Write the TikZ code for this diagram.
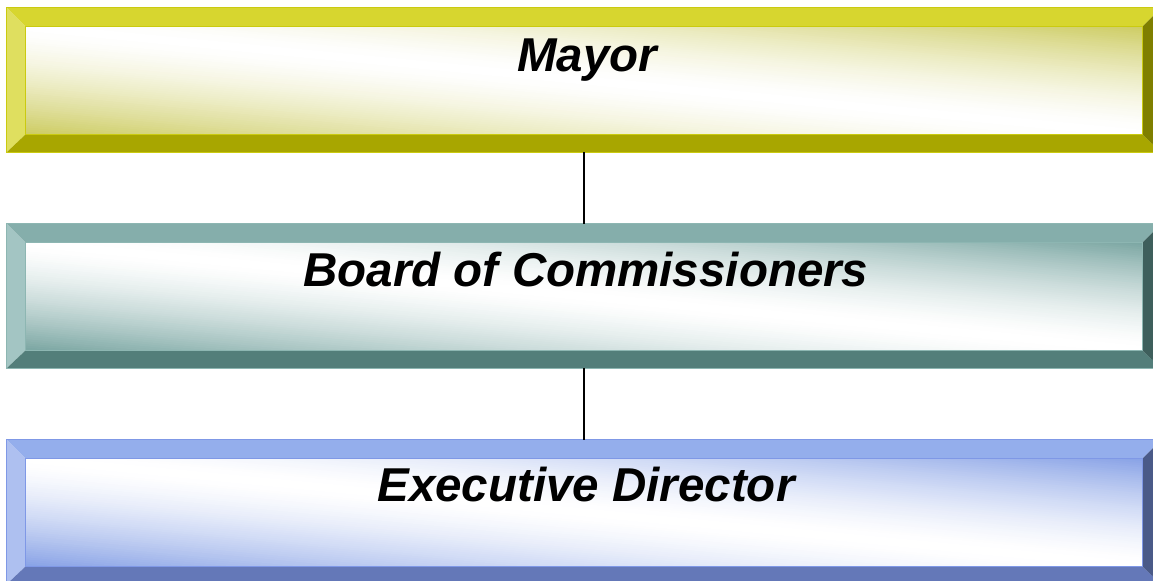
\documentclass[tikz,border=0pt]{standalone}
\usepackage{fontspec}
\setmainfont{Liberation Sans}
\usetikzlibrary{calc}
% Mayor (yellow)
\definecolor{mTop}{HTML}{D7D62F}
\definecolor{mLeft}{HTML}{DFDF5F}
\definecolor{mBot}{HTML}{A8A600}
\definecolor{mRight}{HTML}{7F7F00}
\definecolor{mFace}{HTML}{CDCC62}
\definecolor{mLine}{HTML}{CACA10}
% Board (teal)
\definecolor{bTop}{HTML}{85AEAB}
\definecolor{bLeft}{HTML}{A3C5C3}
\definecolor{bBot}{HTML}{537E7A}
\definecolor{bRight}{HTML}{3E5F5C}
\definecolor{bFace}{HTML}{7AA6A2}
\definecolor{bLine}{HTML}{8DB6B2}
% Executive (blue)
\definecolor{eTop}{HTML}{94AEEC}
\definecolor{eLeft}{HTML}{AEC0F0}
\definecolor{eBot}{HTML}{6478B8}
\definecolor{eRight}{HTML}{4A5A88}
\definecolor{eFace}{HTML}{88A2E6}
\definecolor{eLine}{HTML}{7F98E6}
\tikzset{
  orgbox/.style={draw=none, rectangle, inner sep=0pt, minimum width=1154bp, minimum height=144bp},
  boxlabel/.style={inner sep=0pt, anchor=base, font=\fontsize{47.5bp}{57bp}\selectfont\bfseries\itshape},
  link/.style={draw=black, line width=1.4bp}
}
% #1 node name, #2 prefix of colours
\newcommand\drawbevel[2]{%
  \fill[#2Top] (#1.north west) -- (#1.north east) -- ($(#1.north east)+(-19,19)$) -- ($(#1.north west)+(19,19)$) -- cycle;
  \fill[#2Left] (#1.north west) -- ($(#1.north west)+(19,19)$) -- ($(#1.south west)+(19,-18)$) -- (#1.south west) -- cycle;
  \fill[#2Bot] (#1.south west) -- ($(#1.south west)+(19,-18)$) -- ($(#1.south east)+(-19,-18)$) -- (#1.south east) -- cycle;
  \fill[#2Right] (#1.north east) -- (#1.south east) -- ($(#1.south east)+(-19,-18)$) -- ($(#1.north east)+(-19,19)$) -- cycle;
  \begin{scope}
    \clip ($(#1.north west)+(19,19)$) rectangle ($(#1.south east)+(-19,-18)$);
    \coordinate (#1fa) at ($(#1.north west)+(19,19)$);
    \foreach \i in {0,...,99} {
      \pgfmathsetmacro\sa{-1+\i*0.02}
      \pgfmathsetmacro\sm{abs(\sa+0.01)}
      \pgfmathtruncatemacro\ff{100*\sm^1.5}
      \fill[#2Face!\ff!white]
        ($(#1fa)+({\sa*1116},0)$) -- ($(#1fa)+({(\sa+0.03)*1116},0)$) --
        ($(#1fa)+({(\sa+1.03)*1116},107)$) -- ($(#1fa)+({(\sa+1)*1116},107)$) -- cycle;
    }
  \end{scope}
  \draw[#2Line, line width=1bp] ($(#1.north west)+(19,19)$) rectangle ($(#1.south east)+(-19,-18)$);
  \draw[#2Line, line width=0.8bp] (#1.north west) rectangle (#1.south east);
}
\begin{document}
\begin{tikzpicture}[x=1bp, y=-1bp]
  \useasboundingbox (0,0) rectangle (1153,581);
  \fill[white] (0,0) rectangle (1153,581);
  \node[orgbox] (mayor) at (584,80) {};
  \node[orgbox] (board) at (584,296) {};
  \node[orgbox] (exec) at (584,512) {};
  \drawbevel{mayor}{m}
  \drawbevel{board}{b}
  \drawbevel{exec}{e}
  \draw[link] (mayor.south) -- (board.north);
  \draw[link] (board.south) -- (exec.north);
  \node[boxlabel] (tmayor) at ($(mayor.north)+(3,64)$) {Mayor};
  \node[boxlabel] (tboard) at ($(board.north)+(2,63)$) {Board of Commissioners};
  \node[boxlabel] (texec) at ($(exec.north)+(2,62)$) {Executive Director};
\end{tikzpicture}
\end{document}
